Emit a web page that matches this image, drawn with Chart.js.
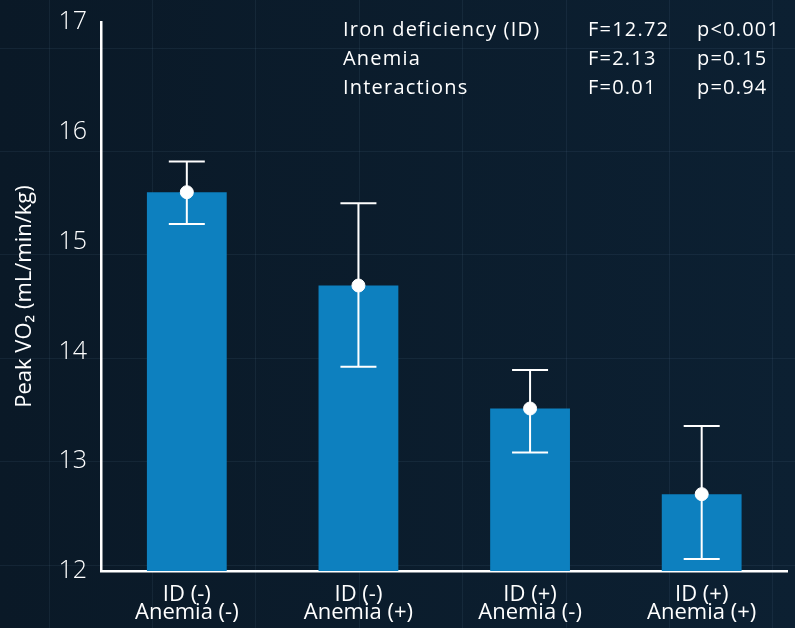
<!DOCTYPE html>
<html>
<head>
<meta charset="utf-8">
<script src="https://cdn.jsdelivr.net/npm/chart.js@4/dist/chart.umd.min.js"></script>
<style>
  html, body { margin: 0; padding: 0; background: #0b1b2b; }
  #wrap { width: 795px; height: 628px; position: relative; }
</style>
</head>
<body>
<div id="wrap"><canvas id="chart"></canvas></div>
<script>
// Data
const categories = [['ID (-)', 'Anemia (-)'], ['ID (-)', 'Anemia (+)'], ['ID (+)', 'Anemia (-)'], ['ID (+)', 'Anemia (+)']];
const means = [15.45, 14.60, 13.48, 12.70];
const errHigh = [15.73, 15.35, 13.83, 13.32];
const errLow = [15.16, 13.86, 13.08, 12.11];
const yTicks = [12, 13, 14, 15, 16, 17];
const statsRows = [
    ['Iron deficiency (ID)', 'F=12.72', 'p<0.001'],
    ['Anemia', 'F=2.13', 'p=0.15'],
    ['Interactions', 'F=0.01', 'p=0.94']
];

const FONT = '"Open Sans", Lato, sans-serif';

// Background with faint square grid
const backdrop = {
    id: 'backdrop',
    beforeDraw(chart) {
        const ctx = chart.ctx;
        const w = chart.width, h = chart.height;
        ctx.save();
        const g = ctx.createLinearGradient(0, 0, w, 0);
        g.addColorStop(0, '#0a1927');
        g.addColorStop(1, '#0c2032');
        ctx.fillStyle = g;
        ctx.fillRect(0, 0, w, h);
        ctx.strokeStyle = 'rgba(120,150,175,0.10)';
        ctx.lineWidth = 1;
        const step = 103.4;
        for (let x = 48.5; x < w; x += step) {
            ctx.beginPath(); ctx.moveTo(Math.round(x) + 0.5, 0); ctx.lineTo(Math.round(x) + 0.5, h); ctx.stroke();
        }
        for (let y = 47.5; y < h; y += step) {
            ctx.beginPath(); ctx.moveTo(0, Math.round(y) + 0.5); ctx.lineTo(w, Math.round(y) + 0.5); ctx.stroke();
        }
        ctx.restore();
    }
};

// Error bars and stats text
const extras = {
    id: 'extras',
    afterDatasetsDraw(chart) {
        const ctx = chart.ctx;
        const xs = chart.scales.x, ys = chart.scales.y;
        ctx.save();
        ctx.strokeStyle = '#ffffff';
        ctx.lineWidth = 2;
        means.forEach((m, i) => {
            const x = xs.getPixelForValue(i);
            const top = ys.getPixelForValue(errHigh[i]);
            const bot = ys.getPixelForValue(errLow[i]);
            ctx.beginPath();
            ctx.moveTo(x, top); ctx.lineTo(x, bot);
            ctx.moveTo(x - 18, top); ctx.lineTo(x + 18, top);
            ctx.moveTo(x - 18, bot); ctx.lineTo(x + 18, bot);
            ctx.stroke();
        });
        ctx.fillStyle = '#ffffff';
        ctx.font = '20px ' + FONT;
        ctx.letterSpacing = '1.2px';
        ctx.textBaseline = 'middle';
        const colX = [343, 588, 697];
        statsRows.forEach((row, r) => {
            row.forEach((t, c) => ctx.fillText(t, colX[c], 30 + r * 29));
        });
        ctx.restore();
    }
};

new Chart(document.getElementById('chart'), {
    data: {
        labels: categories,
        datasets: [{
            type: 'scatter',
            data: means.map((v, i) => ({ x: i, y: v })),
            backgroundColor: '#ffffff',
            borderColor: '#ffffff',
            pointRadius: 6.5,
            showLine: false,
            order: 0
        }, {
            type: 'bar',
            data: means,
            backgroundColor: '#0d80bf',
            barPercentage: 0.465,
            categoryPercentage: 1,
            order: 1
        }]
    },
    options: {
        responsive: true,
        maintainAspectRatio: false,
        animation: false,
        layout: { padding: { top: 22, right: 4, left: 0, bottom: 4 } },
        plugins: { legend: { display: false }, tooltip: { enabled: false } },
        scales: {
            x: {
                type: 'category',
                afterFit(scale) { scale.height = 53; },
                grid: { display: false, drawTicks: false },
                border: { display: true, color: '#ffffff', width: 2.5 },
                ticks: { color: '#ffffff', font: { family: FONT, size: 22, lineHeight: 0.82 }, padding: 15 }
            },
            y: {
                min: 12,
                max: 17,
                afterBuildTicks(scale) { scale.ticks = yTicks.map(v => ({ value: v })); },
                afterFit(scale) {
                    scale.width = 101;
                    scale.paddingTop = 0;
                    scale.paddingBottom = 0;
                },
                grid: { display: false, drawTicks: false },
                border: { display: true, color: '#ffffff', width: 2.5 },
                ticks: { color: '#ffffff', font: { family: FONT, size: 25, weight: '300' }, padding: 14 },
                title: {
                    display: true,
                    text: 'Peak VO\u2082 (mL/min/kg)',
                    color: '#ffffff',
                    font: { family: FONT, size: 22 },
                    padding: { top: 12, bottom: 0 }
                }
            }
        }
    },
    plugins: [backdrop, extras]
});
</script>
</body>
</html>
